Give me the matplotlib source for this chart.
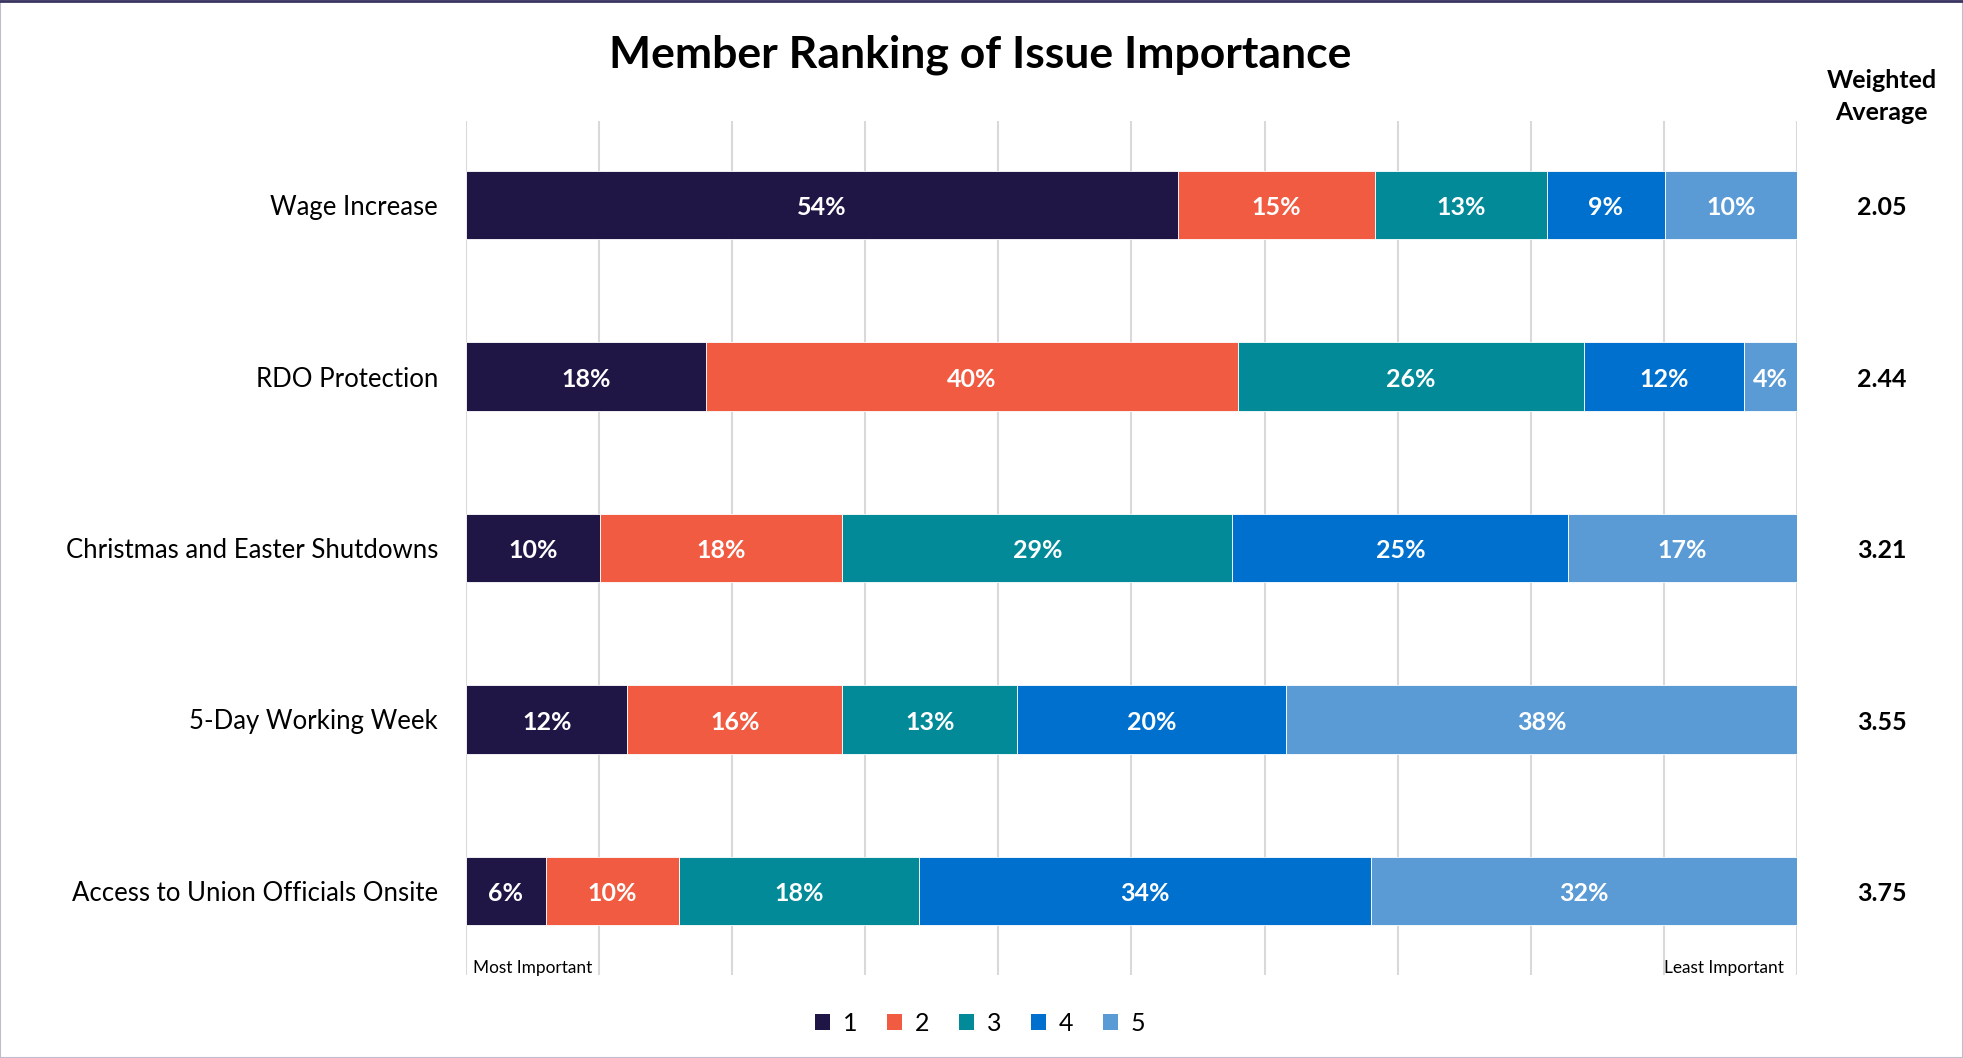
import numpy as np
import matplotlib
matplotlib.use("Agg")
import matplotlib.pyplot as plt
import matplotlib.transforms as mtransforms
from matplotlib.patches import Patch, Rectangle
from matplotlib.lines import Line2D

plt.rcParams['font.family'] = ['Lato', 'DejaVu Sans']

categories = ["Wage Increase", "RDO Protection", "Christmas and Easter Shutdowns",
              "5-Day Working Week", "Access to Union Officials Onsite"]
rank_labels = ["1", "2", "3", "4", "5"]
rank1 = [54, 18, 10, 12, 6]
rank2 = [15, 40, 18, 16, 10]
rank3 = [13, 26, 29, 13, 18]
rank4 = [9, 12, 25, 20, 34]
rank5 = [10, 4, 17, 38, 32]
weighted_avg = [2.05, 2.44, 3.21, 3.55, 3.75]
colors = ["#1F1646", "#F05B41", "#038A99", "#0070CE", "#5B9BD5"]

series = np.array([rank1, rank2, rank3, rank4, rank5], dtype=float)
totals = series.sum(axis=0)
shares = series / totals * 100  # 100% stacked

fig = plt.figure(figsize=(19.63, 10.58), dpi=100)
ax = fig.add_axes([0.2374, 0.0785, 0.678, 0.807])

y = np.arange(len(categories))
left = np.zeros(len(categories))
for i in range(5):
    bars = ax.barh(y, shares[i], left=left, height=0.4, color=colors[i],
                   edgecolor="white", linewidth=0.6, zorder=3, label=rank_labels[i])
    for j, b in enumerate(bars):
        ax.text(left[j] + shares[i][j] / 2, y[j] + 0.015, f"{series[i][j]:.0f}%",
                ha="center", va="center", color="white", fontsize=18,
                fontweight="bold", zorder=4)
    left += shares[i]

ax.set_xlim(0, 100)
ax.set_ylim(4.49, -0.49)
ax.set_xticks(np.arange(0, 101, 10))
ax.xaxis.grid(True, color="#d9d9d9", linewidth=1.5, zorder=0)
ax.tick_params(axis="x", length=0, labelbottom=False)
ax.tick_params(axis="y", length=0, pad=20, labelsize=18.5)
ax.set_yticks(y)
ax.set_yticklabels(categories)
for s in ax.spines.values():
    s.set_visible(False)

ax.text(0.005, -0.001, "Most Important", transform=ax.transAxes, fontsize=12.4,
        ha="left", va="bottom")
ax.text(0.99, -0.001, "Least Important", transform=ax.transAxes, fontsize=12.4,
        ha="right", va="bottom")

# Weighted average column
trans = mtransforms.blended_transform_factory(fig.transFigure, ax.transData)
for j, v in enumerate(weighted_avg):
    ax.text(0.9585, y[j] + 0.015, f"{v:.2f}", transform=trans,
            ha="center", va="center", fontsize=18, fontweight="bold")
fig.text(0.9585, 0.909, "Weighted\nAverage", ha="center", va="center",
         fontsize=18, fontweight="bold", linespacing=1.45)

fig.text(0.4995, 0.948, "Member Ranking of Issue Importance", ha="center",
         va="center", fontsize=32, fontweight="bold")

handles = [Patch(facecolor=c, edgecolor="none") for c in colors]
fig.legend(handles, rank_labels, loc="center", bbox_to_anchor=(0.4995, 0.033),
           ncol=5, frameon=False, fontsize=18, handlelength=0.6, handleheight=0.6,
           handletextpad=0.5, columnspacing=1.2)

# figure border
fig.add_artist(Rectangle((0, 0), 1, 1, transform=fig.transFigure, fill=False,
                         edgecolor="#c0bcd0", linewidth=1.5))
fig.add_artist(Line2D([0, 1], [0.999, 0.999], transform=fig.transFigure,
                      color="#3a3560", linewidth=2))

fig.savefig("out.png", dpi=100)
